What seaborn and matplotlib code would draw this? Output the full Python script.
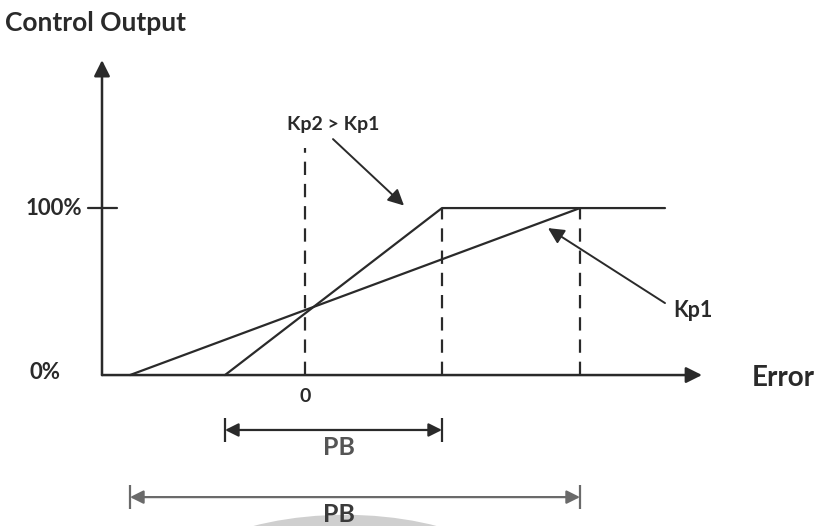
import numpy as np
import pandas as pd
import matplotlib.pyplot as plt
import seaborn as sns
from matplotlib.patches import Ellipse

# Proportional band diagram: control output vs error for two gains
kp2_error = [-8.0, 13.7, 36.0]
kp2_output = [0, 100, 100]
kp1_error = [-17.5, 27.5]
kp1_output = [0, 100]

# dashed guide lines (error position, top of line in %)
guide_x = [0, 13.7, 27.5]
guide_top = [136, 100, 100]

# proportional bands (start, end) in error units
pb_narrow = [-8.0, 13.7]
pb_wide = [-17.5, 27.5]

tick_labels = ["0%", "100%"]

sns.set_theme(style="white")
plt.rcParams['font.family'] = ['Lato', 'DejaVu Sans']

ink = '#2a2a2a'
fig = plt.figure(figsize=(8.2, 5.26), dpi=100)
ax = fig.add_axes([0, 0, 1, 1])
ax.set_xlim(-30.5, 51.5)
ax.set_ylim(-90.4, 224.6)
ax.axis('off')

# faint watermark arc at the bottom
ax.add_patch(Ellipse((4.0, -143.7), 40, 120, color='#cfcfcf', lw=0, zorder=0))

df = pd.concat([
    pd.DataFrame({'error': kp2_error, 'output': kp2_output, 'gain': 'Kp2'}),
    pd.DataFrame({'error': kp1_error, 'output': kp1_output, 'gain': 'Kp1'}),
])
sns.lineplot(data=df, x='error', y='output', hue='gain', palette={'Kp2': ink, 'Kp1': ink},
             legend=False, lw=1.6, estimator=None, sort=False, ax=ax)

# axes with arrows
x0 = -20.3
ax.annotate('', xy=(x0, 188.6), xytext=(x0, 0),
            arrowprops=dict(arrowstyle='-|>', color=ink, lw=1.8, mutation_scale=24, shrinkA=0, shrinkB=0))
ax.annotate('', xy=(39.7, 0), xytext=(x0, 0),
            arrowprops=dict(arrowstyle='-|>', color=ink, lw=1.8, mutation_scale=24, shrinkA=0, shrinkB=0))
ax.plot([-21.7, -18.8], [100, 100], color=ink, lw=1.6)

# dashed guides
for gx, gt in zip(guide_x, guide_top):
    ax.plot([gx, gx], [0, gt], color=ink, lw=1.6, ls=(0, (6, 4)))

# proportional band arrows
def band(ax, span, y, color):
    ax.annotate('', xy=(span[0], y), xytext=(span[1], y),
                arrowprops=dict(arrowstyle='<|-|>', color=color, lw=1.6, mutation_scale=20,
                                shrinkA=0, shrinkB=0))
    ax.vlines(span, y - 7.2, y + 7.2, color=color, lw=1.6)

band(ax, pb_narrow, -32.9, ink)
band(ax, pb_wide, -73.1, '#6a6a6a')

# annotation arrows
ax.annotate('', xy=(9.9, 101.5), xytext=(2.8, 141.3),
            arrowprops=dict(arrowstyle='-|>', color=ink, lw=1.4, mutation_scale=24, shrinkA=0, shrinkB=0))
ax.annotate('', xy=(24.3, 88.0), xytext=(36.0, 43.1),
            arrowprops=dict(arrowstyle='-|>', color=ink, lw=1.4, mutation_scale=24, shrinkA=0, shrinkB=0))

# texts
tk = dict(color=ink, fontweight='bold')
ax.text(-30.0, 211.0, 'Control Output', ha='left', va='center', fontsize=19, **tk)
ax.text(-22.3, 100, tick_labels[1], ha='right', va='center', fontsize=16, **tk)
ax.text(-26.0, 1.8, tick_labels[0], ha='center', va='center', fontsize=16, **tk)
ax.text(0, -12.6, '0', ha='center', va='center', fontsize=14, **tk)
ax.text(2.8, 150.3, 'Kp2 > Kp1', ha='center', va='center', fontsize=14, **tk)
ax.text(36.8, 38.9, 'Kp1', ha='left', va='center', fontsize=15.5, **tk)
ax.text(44.7, -1.8, 'Error', ha='left', va='center', fontsize=20, **tk)
ax.text(3.4, -43.1, 'PB', ha='center', va='center', fontsize=18, color='#555555', fontweight='bold')
ax.text(3.4, -83.8, 'PB', ha='center', va='center', fontsize=18, color='#3a3a3a', fontweight='bold')

fig.savefig('out.png', dpi=100, facecolor='white')
